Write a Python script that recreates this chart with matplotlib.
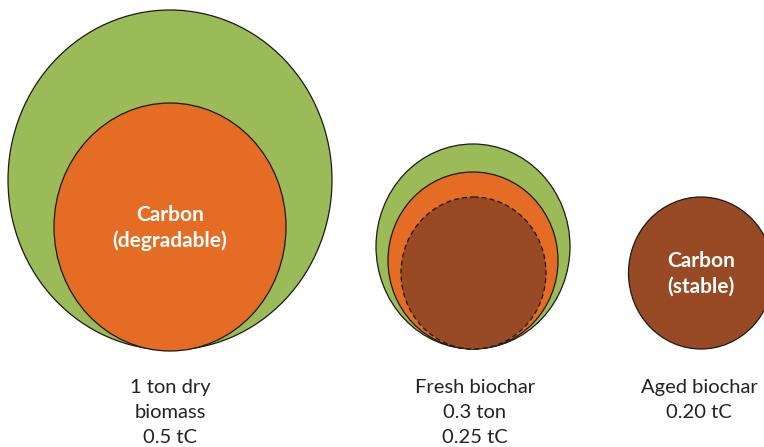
import matplotlib.pyplot as plt
from matplotlib.patches import Ellipse

plt.rcParams["font.family"] = ["Lato", "DejaVu Sans"]

# -----------------------------------------------------------------------------
# Dados (coordenadas em pixels da imagem, y para baixo)
# -----------------------------------------------------------------------------
# centro x, centro y, largura, altura
biomassa = [
    (170, 180, 324, 340),   # biomassa total (verde)
    (170, 227, 232, 248),   # carbono degradável (laranja)
]
biochar_fresco = [
    (473, 246.5, 194, 205),  # biochar fresco (verde)
    (473, 260.5, 170, 177),  # carbono (laranja)
    (473.5, 273, 145, 152),  # carbono estável (tracejado)
]
biochar_velho = [(701, 273, 145, 152)]

rotulos = ["1 ton dry\nbiomass\n0.5 tC", "Fresh biochar\n0.3 ton\n0.25 tC",
           "Aged biochar\n0.20 tC"]
rotulos_x = [170, 475, 699]

verde = "#9BBB59"
laranja = "#E46C25"
marrom = "#974A23"

fig = plt.figure(figsize=(7.64, 4.47), dpi=100)
ax = fig.add_axes([0, 0, 1, 1])
ax.set_xlim(0, 764)
ax.set_ylim(447, 0)
ax.set_aspect("auto")
ax.axis("off")

def elipse(c, cor, ls="-"):
    x, y, w, h = c
    ax.add_patch(Ellipse((x, y), w, h, facecolor=cor, edgecolor="#1a1a1a",
                         lw=0.9, ls=ls))

elipse(biomassa[0], verde)
elipse(biomassa[1], laranja)
elipse(biochar_fresco[0], verde)
elipse(biochar_fresco[1], laranja)
elipse(biochar_fresco[2], marrom, ls=(0, (4, 2.5)))
elipse(biochar_velho[0], marrom)

ax.text(170, 228, "Carbon\n(degradable)", color="white", fontsize=15,
        fontweight="bold", ha="center", va="center", linespacing=1.35)
ax.text(701, 274, "Carbon\n(stable)", color="white", fontsize=15,
        fontweight="bold", ha="center", va="center", linespacing=1.35)

for x, t in zip(rotulos_x, rotulos):
    ax.text(x, 379, t, color="#222222", fontsize=14.5, ha="center",
            va="top", linespacing=1.58)

fig.savefig("out.png", dpi=100)
